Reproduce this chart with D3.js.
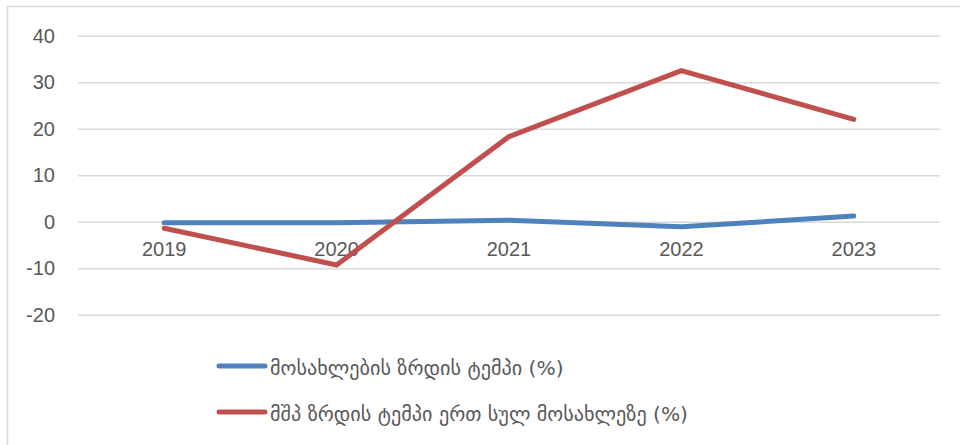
<!DOCTYPE html>
<html>
<head>
<meta charset="utf-8">
<script src="https://cdn.jsdelivr.net/npm/d3@7"></script>
<style>
  body { margin: 0; background: #fff; }
  svg { display: block; }
</style>
</head>
<body>
<svg id="drawing_region"></svg>
<script>
const years = ['2019', '2020', '2021', '2022', '2023'];
const populationGrowth = [-0.2, -0.2, 0.3, -1.1, 1.2];
const gdpPerCapitaGrowth = [-1.4, -9.3, 18.3, 32.5, 22.0];
const yTicks = [-20, -10, 0, 10, 20, 30, 40];
const seriesNames = ['მოსახლების ზრდის ტემპი (%)', 'მშპ ზრდის ტემპი ერთ სულ მოსახლეზე (%)'];
const seriesColors = ['#4F81BD', '#C0504D'];

const width = 960, height = 445;
const margin = { top: 35.7, right: 20, bottom: 130.3, left: 78 };
const innerW = width - margin.left - margin.right;
const innerH = height - margin.top - margin.bottom;

const svg = d3.select('#drawing_region')
    .attr('width', width)
    .attr('height', height);

// chart frame
svg.append('rect')
    .attr('x', 7.5).attr('y', 6.5)
    .attr('width', 960).attr('height', 460)
    .attr('fill', 'none')
    .attr('stroke', '#d9d9d9')
    .attr('stroke-width', 1.5);

const chart = svg.append('g')
    .attr('transform', `translate(${margin.left}, ${margin.top})`);

const xscale = d3.scaleBand()
    .domain(years)
    .range([0, innerW]);

const yscale = d3.scaleLinear()
    .domain([-20, 40])
    .range([innerH, 0]);

// gridlines
const yaxis = d3.axisLeft(yscale)
    .tickValues(yTicks)
    .tickFormat(d => String(d))
    .tickSize(-innerW)
    .tickPadding(23);

const yaxis_group = chart.append('g').call(yaxis);
yaxis_group.select('.domain').remove();
yaxis_group.selectAll('.tick line')
    .attr('stroke', '#d9d9d9')
    .attr('stroke-width', 1.5);
yaxis_group.selectAll('.tick text')
    .attr('fill', '#595959')
    .style('font-family', '"Liberation Sans", Arial, sans-serif')
    .style('font-size', '20px');

// category labels sit under the zero line
const xaxis = d3.axisBottom(xscale)
    .tickSize(0)
    .tickPadding(20);

const xaxis_group = chart.append('g')
    .attr('transform', `translate(0, ${yscale(0)})`)
    .call(xaxis);
xaxis_group.select('.domain').remove();
xaxis_group.selectAll('.tick text')
    .attr('fill', '#595959')
    .style('font-family', '"Liberation Sans", Arial, sans-serif')
    .style('font-size', '20px');

const line = d3.line()
    .x((d, i) => xscale(years[i]) + xscale.bandwidth() / 2)
    .y(d => yscale(d));

[populationGrowth, gdpPerCapitaGrowth].forEach((values, k) => {
    chart.append('path')
        .datum(values)
        .attr('d', line)
        .attr('fill', 'none')
        .attr('stroke', seriesColors[k])
        .attr('stroke-width', 5)
        .attr('stroke-linecap', 'round')
        .attr('stroke-linejoin', 'round');
});

// legend
const legend = svg.append('g')
    .attr('transform', 'translate(219, 366)');

seriesNames.forEach((name, k) => {
    const row = legend.append('g')
        .attr('transform', `translate(0, ${k * 46})`);
    row.append('line')
        .attr('x1', 0).attr('x2', 46)
        .attr('stroke', seriesColors[k])
        .attr('stroke-width', 5)
        .attr('stroke-linecap', 'round');
    row.append('text')
        .attr('x', 51)
        .attr('y', 9)
        .attr('fill', '#595959')
        .style('font-family', '"DejaVu Sans", sans-serif')
        .style('font-size', '20.2px')
        .text(name);
});
</script>
</body>
</html>
